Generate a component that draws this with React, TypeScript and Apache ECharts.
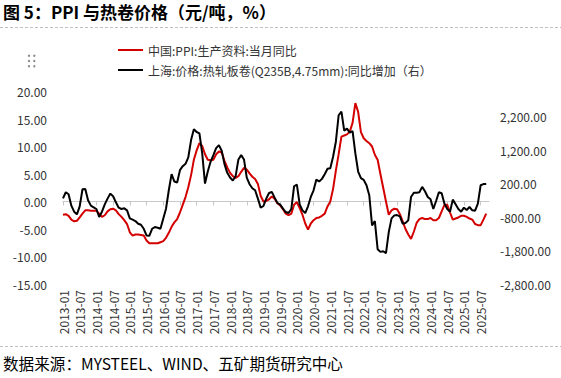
import React, { useEffect, useRef } from "react";
import * as echarts from "echarts";

// Monthly categories 2013-01 .. 2025-10 (last slot is empty space on the axis)
const startYear = 2013;
const categories: string[] = [];
for (let y = startYear; y <= 2025; y++) {
  for (let m = 1; m <= 12; m++) {
    if (y === 2025 && m > 10) break;
    categories.push(`${y}-${m < 10 ? "0" + m : m}`);
  }
}

const seriesNames = [
  "中国:PPI:生产资料:当月同比",
  "上海:价格:热轧板卷(Q235B,4.75mm):同比增加（右）",
];

// 中国 PPI 生产资料 当月同比 (%), 2013-01 .. 2025-09
const ppiYoY: number[] = [
  -2.4, -2.3, -2.6, -3.3, -3.6, -3.5, -2.9, -2.2, -1.6, -1.6, -1.7, -1.7, // 2013
  -1.7, -2.2, -2.8, -2.5, -1.8, -1.4, -1.3, -1.6, -2.3, -2.8, -3.4, -4.1, // 2014
  -5.6, -6.2, -6.0, -6.0, -6.1, -6.2, -7.1, -7.6, -7.6, -7.6, -7.6, -7.4, // 2015
  -7.2, -6.6, -5.7, -4.6, -3.8, -3.2, -2.0, -0.6, 0.8, 2.6, 4.8, 7.6, // 2016
  9.3, 10.6, 10.1, 8.6, 7.6, 7.5, 7.6, 8.6, 9.1, 8.9, 7.4, 6.2, // 2017
  5.2, 4.6, 4.3, 4.6, 5.4, 6.1, 5.8, 5.1, 4.5, 4.1, 3.2, 1.0, // 2018
  0.0, 0.1, 0.4, 0.9, 0.5, -0.3, -0.7, -1.4, -2.2, -2.5, -2.2, -0.6, // 2019
  -0.1, -1.2, -2.4, -4.0, -5.1, -4.0, -3.4, -3.0, -2.9, -2.6, -2.2, -0.9, // 2020
  0.0, 2.3, 5.6, 8.6, 11.8, 12.0, 12.2, 12.7, 14.3, 17.9, 16.3, 12.6, // 2021
  11.5, 11.0, 10.6, 10.0, 8.5, 7.6, 5.0, 2.5, 0.0, -2.4, -1.6, -1.3, // 2022
  -1.4, -2.3, -3.6, -5.0, -6.0, -6.8, -5.5, -3.9, -3.2, -3.0, -3.2, -3.2, // 2023
  -3.0, -3.4, -3.4, -3.0, -1.8, -0.6, -0.6, -2.0, -3.3, -3.1, -2.9, -2.6, // 2024
  -2.6, -2.8, -3.1, -3.3, -4.1, -4.3, -4.3, -3.3, -2.2, // 2025
];

// 上海 热轧板卷(Q235B,4.75mm) 价格同比增加 (元/吨), 2013-01 .. 2025-09
const hrcYoY: number[] = [
  -240, -60, -120, -460, -640, -720, -480, 30, 40, -300, -460, -510, // 2013
  -560, -800, -640, -420, -250, -100, -180, -360, -520, -560, -540, -600, // 2014
  -840, -880, -920, -1000, -1030, -1150, -1350, -1360, -1150, -1100, -1120, -1150, // 2015
  -850, -550, 0, 480, 260, 230, 600, 720, 790, 980, 1500, 1820, // 2016
  1740, 1700, 1100, 200, 560, 850, 1050, 1260, 1350, 1180, 780, 520, // 2017
  380, 290, 420, 920, 1050, 920, 380, 180, 60, 0, -250, -520, // 2018
  -470, -250, -80, -50, -220, -380, -430, -550, -650, -680, -560, 120, // 2019
  170, -420, -600, -680, -480, -200, 0, 320, 260, 340, 480, 640, // 2020
  660, 1000, 1450, 2240, 2350, 1780, 1840, 1720, 1770, 1100, 560, 360, // 2021
  310, 150, -150, -1050, -920, -1760, -1840, -1820, -1880, -1250, -840, -750, // 2022
  -740, -780, -1000, -980, -900, -200, -75, -75, -60, 100, -30, -200, // 2023
  -270, -560, -320, -60, -90, -400, -560, -640, -280, -420, -560, -640, // 2024
  -520, -590, -500, -600, -610, -400, 150, 185, 190, // 2025
];

const leftMin = -15;
const leftMax = 20;
const leftStep = 5;
const rightMin = -2800;
const rightMax = 2950;
const rightStep = 1000;

const titleText = "图 5：PPI 与热卷价格（元/吨，%）";
const sourceText = "数据来源：MYSTEEL、WIND、五矿期货研究中心";

const RED = "#D40000";
const BLACK = "#000000";
const FONT = "'Noto Sans CJK SC', 'Noto Sans', sans-serif";

export default function App() {
  const ref = useRef<HTMLDivElement>(null);

  useEffect(() => {
    if (!ref.current) return;
    const chart = echarts.init(ref.current, null, { renderer: "svg" });

    const dots: any[] = [];
    [55.7, 61, 66.3].forEach((cy) =>
      [29, 34.3].forEach((cx) =>
        dots.push({
          type: "circle",
          shape: { cx, cy, r: 1.2 },
          style: { fill: "#8c8c8c" },
          silent: true,
        })
      )
    );

    chart.setOption({
      animation: false,
      backgroundColor: "#ffffff",
      textStyle: { fontFamily: FONT },
      graphic: [
        {
          type: "text",
          x: 3,
          y: 3,
          style: {
            text: titleText,
            font: `bold 17px ${FONT}`,
            fill: "#000",
            textVerticalAlign: "top",
          },
        },
        {
          type: "line",
          shape: { x1: 0, y1: 27.5, x2: 561, y2: 27.5 },
          style: { stroke: "#bfbfbf", lineWidth: 1, lineDash: [3, 2] },
        },
        {
          type: "line",
          shape: { x1: 0, y1: 346.5, x2: 561, y2: 346.5 },
          style: { stroke: "#bfbfbf", lineWidth: 1, lineDash: [3, 2] },
        },
        {
          type: "text",
          x: 3,
          y: 355,
          style: {
            text: sourceText,
            font: `15.6px ${FONT}`,
            fill: "#000",
            textVerticalAlign: "top",
          },
        },
        ...dots,
      ],
      legend: {
        orient: "vertical",
        left: 118,
        top: 44,
        padding: 0,
        itemGap: 8,
        itemWidth: 25,
        itemHeight: 2,
        icon: "rect",
        textStyle: { fontSize: 12, color: "#333", fontFamily: FONT },
        data: seriesNames,
      },
      grid: {
        left: 63,
        right: 72,
        top: 91.5,
        bottom: 94,
        containLabel: false,
      },
      xAxis: [
        {
          type: "category",
          data: categories,
          boundaryGap: false,
          position: "bottom",
          axisLine: { show: false, onZero: false },
          axisTick: { show: false },
          axisLabel: {
            interval: 5,
            rotate: 90,
            fontSize: 12,
            color: "#333",
            margin: 6,
            fontFamily: FONT,
          },
          splitLine: { show: false },
        },
        {
          type: "category",
          data: categories,
          boundaryGap: false,
          position: "bottom",
          axisLine: {
            show: true,
            onZero: true,
            onZeroAxisIndex: 0,
            lineStyle: { color: "#c8c8c8", width: 1 },
          },
          axisTick: {
            show: true,
            interval: 5,
            length: 4,
            lineStyle: { color: "#c8c8c8" },
          },
          axisLabel: { show: false },
          splitLine: { show: false },
        },
      ],
      yAxis: [
        {
          type: "value",
          min: leftMin,
          max: leftMax,
          interval: leftStep,
          position: "left",
          axisLine: { show: false },
          axisTick: { show: false },
          splitLine: { show: false },
          axisLabel: {
            fontSize: 12,
            color: "#333",
            margin: 16,
            fontFamily: FONT,
            formatter: (v: number) => v.toFixed(2),
          },
        },
        {
          type: "value",
          min: rightMin,
          max: rightMax,
          interval: rightStep,
          position: "right",
          axisLine: { show: false },
          axisTick: { show: false },
          splitLine: { show: false },
          axisLabel: {
            fontSize: 12,
            color: "#333",
            margin: 11,
            fontFamily: FONT,
            showMaxLabel: false,
            formatter: (v: number) => {
              if (Math.abs((v - rightMin) % rightStep) > 1e-6) return "";
              return v.toLocaleString("en-US", {
                minimumFractionDigits: 2,
                maximumFractionDigits: 2,
              });
            },
          },
        },
      ],
      series: [
        {
          name: seriesNames[0],
          type: "line",
          xAxisIndex: 0,
          yAxisIndex: 0,
          data: ppiYoY,
          showSymbol: false,
          symbol: "none",
          lineStyle: { color: RED, width: 2 },
          itemStyle: { color: RED },
        },
        {
          name: seriesNames[1],
          type: "line",
          xAxisIndex: 0,
          yAxisIndex: 1,
          data: hrcYoY,
          showSymbol: false,
          symbol: "none",
          lineStyle: { color: BLACK, width: 2 },
          itemStyle: { color: BLACK },
        },
      ],
    });

    return () => chart.dispose();
  }, []);

  return (
    <div
      ref={ref}
      style={{
        position: "fixed",
        left: 0,
        top: 0,
        width: 561,
        height: 378,
        background: "#fff",
      }}
    />
  );
}
